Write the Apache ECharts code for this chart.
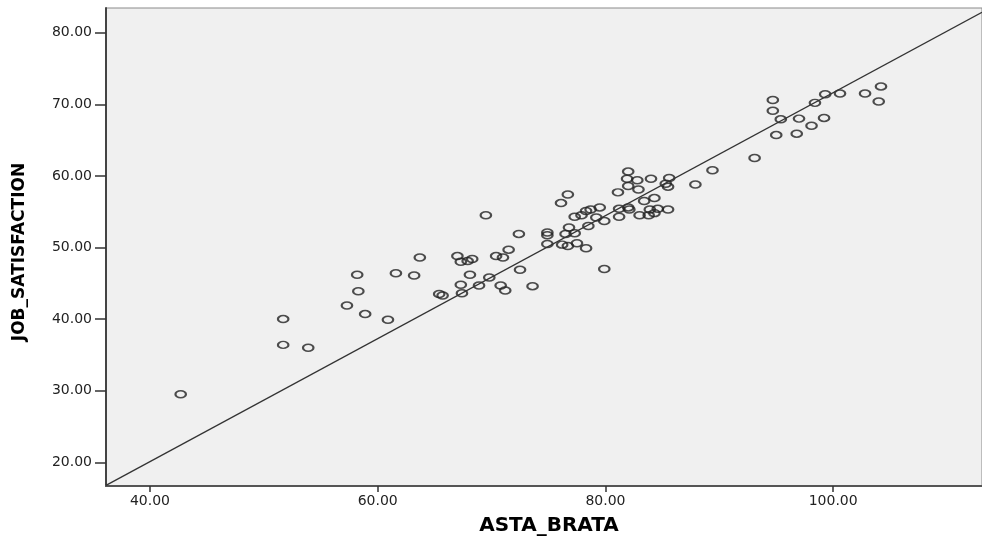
<!DOCTYPE html>
<html>
<head>
<meta charset="UTF-8">
<title>ASTA_BRATA vs JOB_SATISFACTION</title>
<script src="https://cdn.jsdelivr.net/npm/echarts@6/dist/echarts.min.js"></script>
</head>
<body style="margin:0;background:#fff">
<div id="chart" style="width:982px;height:541px"></div>
<script>
// scatter values
const astaBrata = [
  42.7, 51.7, 51.7, 53.9, 57.3, 58.2, 58.3, 58.9, 60.9, 61.6, 63.2, 63.7, 65.4, 65.7,
  67.0, 67.3, 67.9, 68.3, 70.4, 71.0, 71.5, 68.1, 67.3, 68.9, 69.8, 72.5, 67.4, 70.8,
  71.2, 73.6, 69.5, 72.4, 74.9, 74.9,
  89.4, 87.9, 82.0, 81.9, 82.8, 84.0, 85.6, 82.0, 82.9, 85.3, 85.5, 81.1, 76.7, 76.1,
  83.4, 84.3, 79.5, 78.7, 78.3, 77.9, 77.3, 79.2, 79.9, 81.2, 82.0, 82.1, 81.2, 83.0,
  83.9, 84.6, 85.5, 84.3, 83.8, 76.8, 77.3, 76.5, 78.5, 76.2, 76.7, 77.5, 78.3, 79.9,
  74.9,
  104.2, 104.0, 102.8, 100.6, 99.3, 98.4, 94.7, 94.7, 95.4, 97.0, 99.2, 98.1, 96.8, 95.0,
  93.1
];
const jobSatisfaction = [
  29.5, 40.0, 36.4, 36.0, 41.9, 46.2, 43.9, 40.7, 39.9, 46.4, 46.1, 48.6, 43.5, 43.3,
  48.8, 48.0, 48.1, 48.4, 48.8, 48.6, 49.7, 46.2, 44.8, 44.7, 45.8, 46.9, 43.6, 44.7,
  44.0, 44.6, 54.5, 51.9, 52.1, 50.5,
  60.8, 58.8, 60.6, 59.6, 59.4, 59.6, 59.7, 58.6, 58.1, 58.9, 58.5, 57.7, 57.4, 56.2,
  56.5, 56.9, 55.6, 55.3, 55.1, 54.5, 54.3, 54.2, 53.7, 55.4, 55.6, 55.3, 54.3, 54.5,
  55.3, 55.4, 55.3, 54.8, 54.5, 52.8, 52.0, 51.9, 53.0, 50.4, 50.2, 50.6, 49.9, 47.0,
  51.7,
  72.5, 70.4, 71.5, 71.5, 71.4, 70.2, 70.6, 69.1, 67.9, 68.0, 68.1, 67.0, 65.9, 65.7,
  62.5
];
const xTicks = [40, 60, 80, 100];
const yTicks = [20, 30, 40, 50, 60, 70, 80];
const xRange = [36.14, 113.07];
const yRange = [16.69, 83.45];
// fit line (total)
const fitIntercept = -14.27;
const fitSlope = 0.859;

const points = astaBrata.map((x, i) => [x, jobSatisfaction[i]]);
const fitLine = xRange.map(x => [x, fitIntercept + fitSlope * x]);

const chart = echarts.init(document.getElementById('chart'));
const fmt = v => Number(v).toFixed(2);

chart.setOption({
  animation: false,
  backgroundColor: '#fff',
  grid: {
    show: true, left: 106, right: -1, top: 8, bottom: 49,
    backgroundColor: '#f0f0f0', borderColor: '#8a8a8a', borderWidth: 1
  },
  xAxis: {
    type: 'value', min: xRange[0], max: xRange[1],
    name: 'ASTA_BRATA', nameLocation: 'middle', nameGap: 30,
    nameTextStyle: { fontFamily: 'DejaVu Sans', fontWeight: 'bold', fontSize: 20, color: '#000',
      padding: [0, 0, 0, 10] },
    axisLine: { onZero: false, lineStyle: { color: '#555', width: 2 } },
    axisTick: { show: true, customValues: xTicks, length: 6, lineStyle: { color: '#333', width: 1.5 } },
    axisLabel: { customValues: xTicks, formatter: fmt, margin: 8,
      fontFamily: 'DejaVu Sans', fontSize: 14, color: '#222' },
    splitLine: { show: false }
  },
  yAxis: {
    type: 'value', min: yRange[0], max: yRange[1],
    name: 'JOB_SATISFACTION', nameLocation: 'middle', nameGap: 78,
    nameTextStyle: { fontFamily: 'DejaVu Sans', fontWeight: 'bold', fontSize: 17, color: '#000',
      padding: [0, 10, 0, 0] },
    axisLine: { show: true, onZero: false, lineStyle: { color: '#444', width: 2 } },
    axisTick: { show: true, customValues: yTicks, length: 11, lineStyle: { color: '#333', width: 1.5 } },
    axisLabel: { customValues: yTicks, formatter: fmt, margin: 14,
      fontFamily: 'DejaVu Sans', fontSize: 14, color: '#222' },
    splitLine: { show: false }
  },
  series: [
    {
      type: 'line', data: fitLine, symbol: 'none', silent: true,
      lineStyle: { color: '#333', width: 1.3 }
    },
    {
      type: 'scatter', data: points,
      symbol: 'path://M0,50A50,50,0,1,1,100,50A50,50,0,1,1,0,50Z',
      symbolSize: [10.5, 7],
      itemStyle: { color: 'rgba(0,0,0,0)', borderColor: '#222', borderWidth: 1.8 }
    }
  ]
});
</script>
</body>
</html>
